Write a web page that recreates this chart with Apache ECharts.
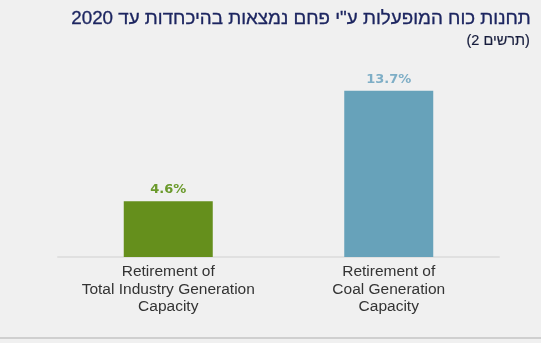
<!DOCTYPE html>
<html>
<head>
<meta charset="utf-8">
<script src="https://cdn.jsdelivr.net/npm/echarts@6/dist/echarts.min.js"></script>
<style>
  html, body { margin: 0; padding: 0; background: #f0f0f0; }
  #chart { width: 541px; height: 343px; }
</style>
</head>
<body>
<div id="chart"></div>
<script>
// Share of generation capacity being retired
const categories = [
  'Retirement of\nTotal Industry Generation\nCapacity',
  'Retirement of\nCoal Generation\nCapacity'
];
const values = [4.6, 13.7];
const barColors = ['#658f1c', '#67a2ba'];
const labelColors = ['#6b9a2c', '#7eaec6'];

const titleText = 'תחנות כוח המופעלות ע"י פחם נמצאות בהיכחדות עד 2020';
const subtitleText = '(תרשים 2)';

const chart = echarts.init(document.getElementById('chart'), null, { renderer: 'canvas' });

chart.setOption({
  backgroundColor: '#f0f0f0',
  animation: false,
  grid: { left: 58, right: 42, top: 75, bottom: 86, containLabel: false },
  xAxis: {
    type: 'category',
    data: categories,
    axisLine: { show: true, lineStyle: { color: '#e0e0e0', width: 2 } },
    axisTick: { show: false },
    axisLabel: {
      interval: 0,
      margin: 6,
      fontFamily: 'Liberation Sans',
      fontSize: 15.5,
      lineHeight: 17.5,
      color: '#333333'
    }
  },
  yAxis: {
    type: 'value',
    min: 0,
    max: 15,
    show: false
  },
  series: [{
    type: 'bar',
    barWidth: 89,
    data: values.map((v, i) => ({
      value: v,
      itemStyle: { color: barColors[i] },
      label: { color: labelColors[i] }
    })),
    label: {
      show: true,
      position: 'top',
      distance: 5,
      fontFamily: 'DejaVu Sans',
      fontSize: 13,
      fontWeight: 'bold',
      formatter: p => p.value.toFixed(1) + '%'
    }
  }],
  graphic: [
    {
      type: 'text',
      right: 10,
      top: 9,
      style: {
        text: titleText,
        font: '18.8px "Liberation Sans"',
        fill: '#1c2560',
        stroke: '#1c2560',
        lineWidth: 0.3
      },
      silent: true
    },
    {
      type: 'text',
      right: 11,
      top: 33,
      style: {
        text: subtitleText,
        font: '14.5px "Liberation Sans"',
        fill: '#161c3c',
        stroke: '#161c3c',
        lineWidth: 0.2
      },
      silent: true
    },
    {
      type: 'rect',
      shape: { x: 0, y: 337, width: 541, height: 2 },
      style: { fill: '#cfcfcf' },
      silent: true
    }
  ]
});
</script>
</body>
</html>
